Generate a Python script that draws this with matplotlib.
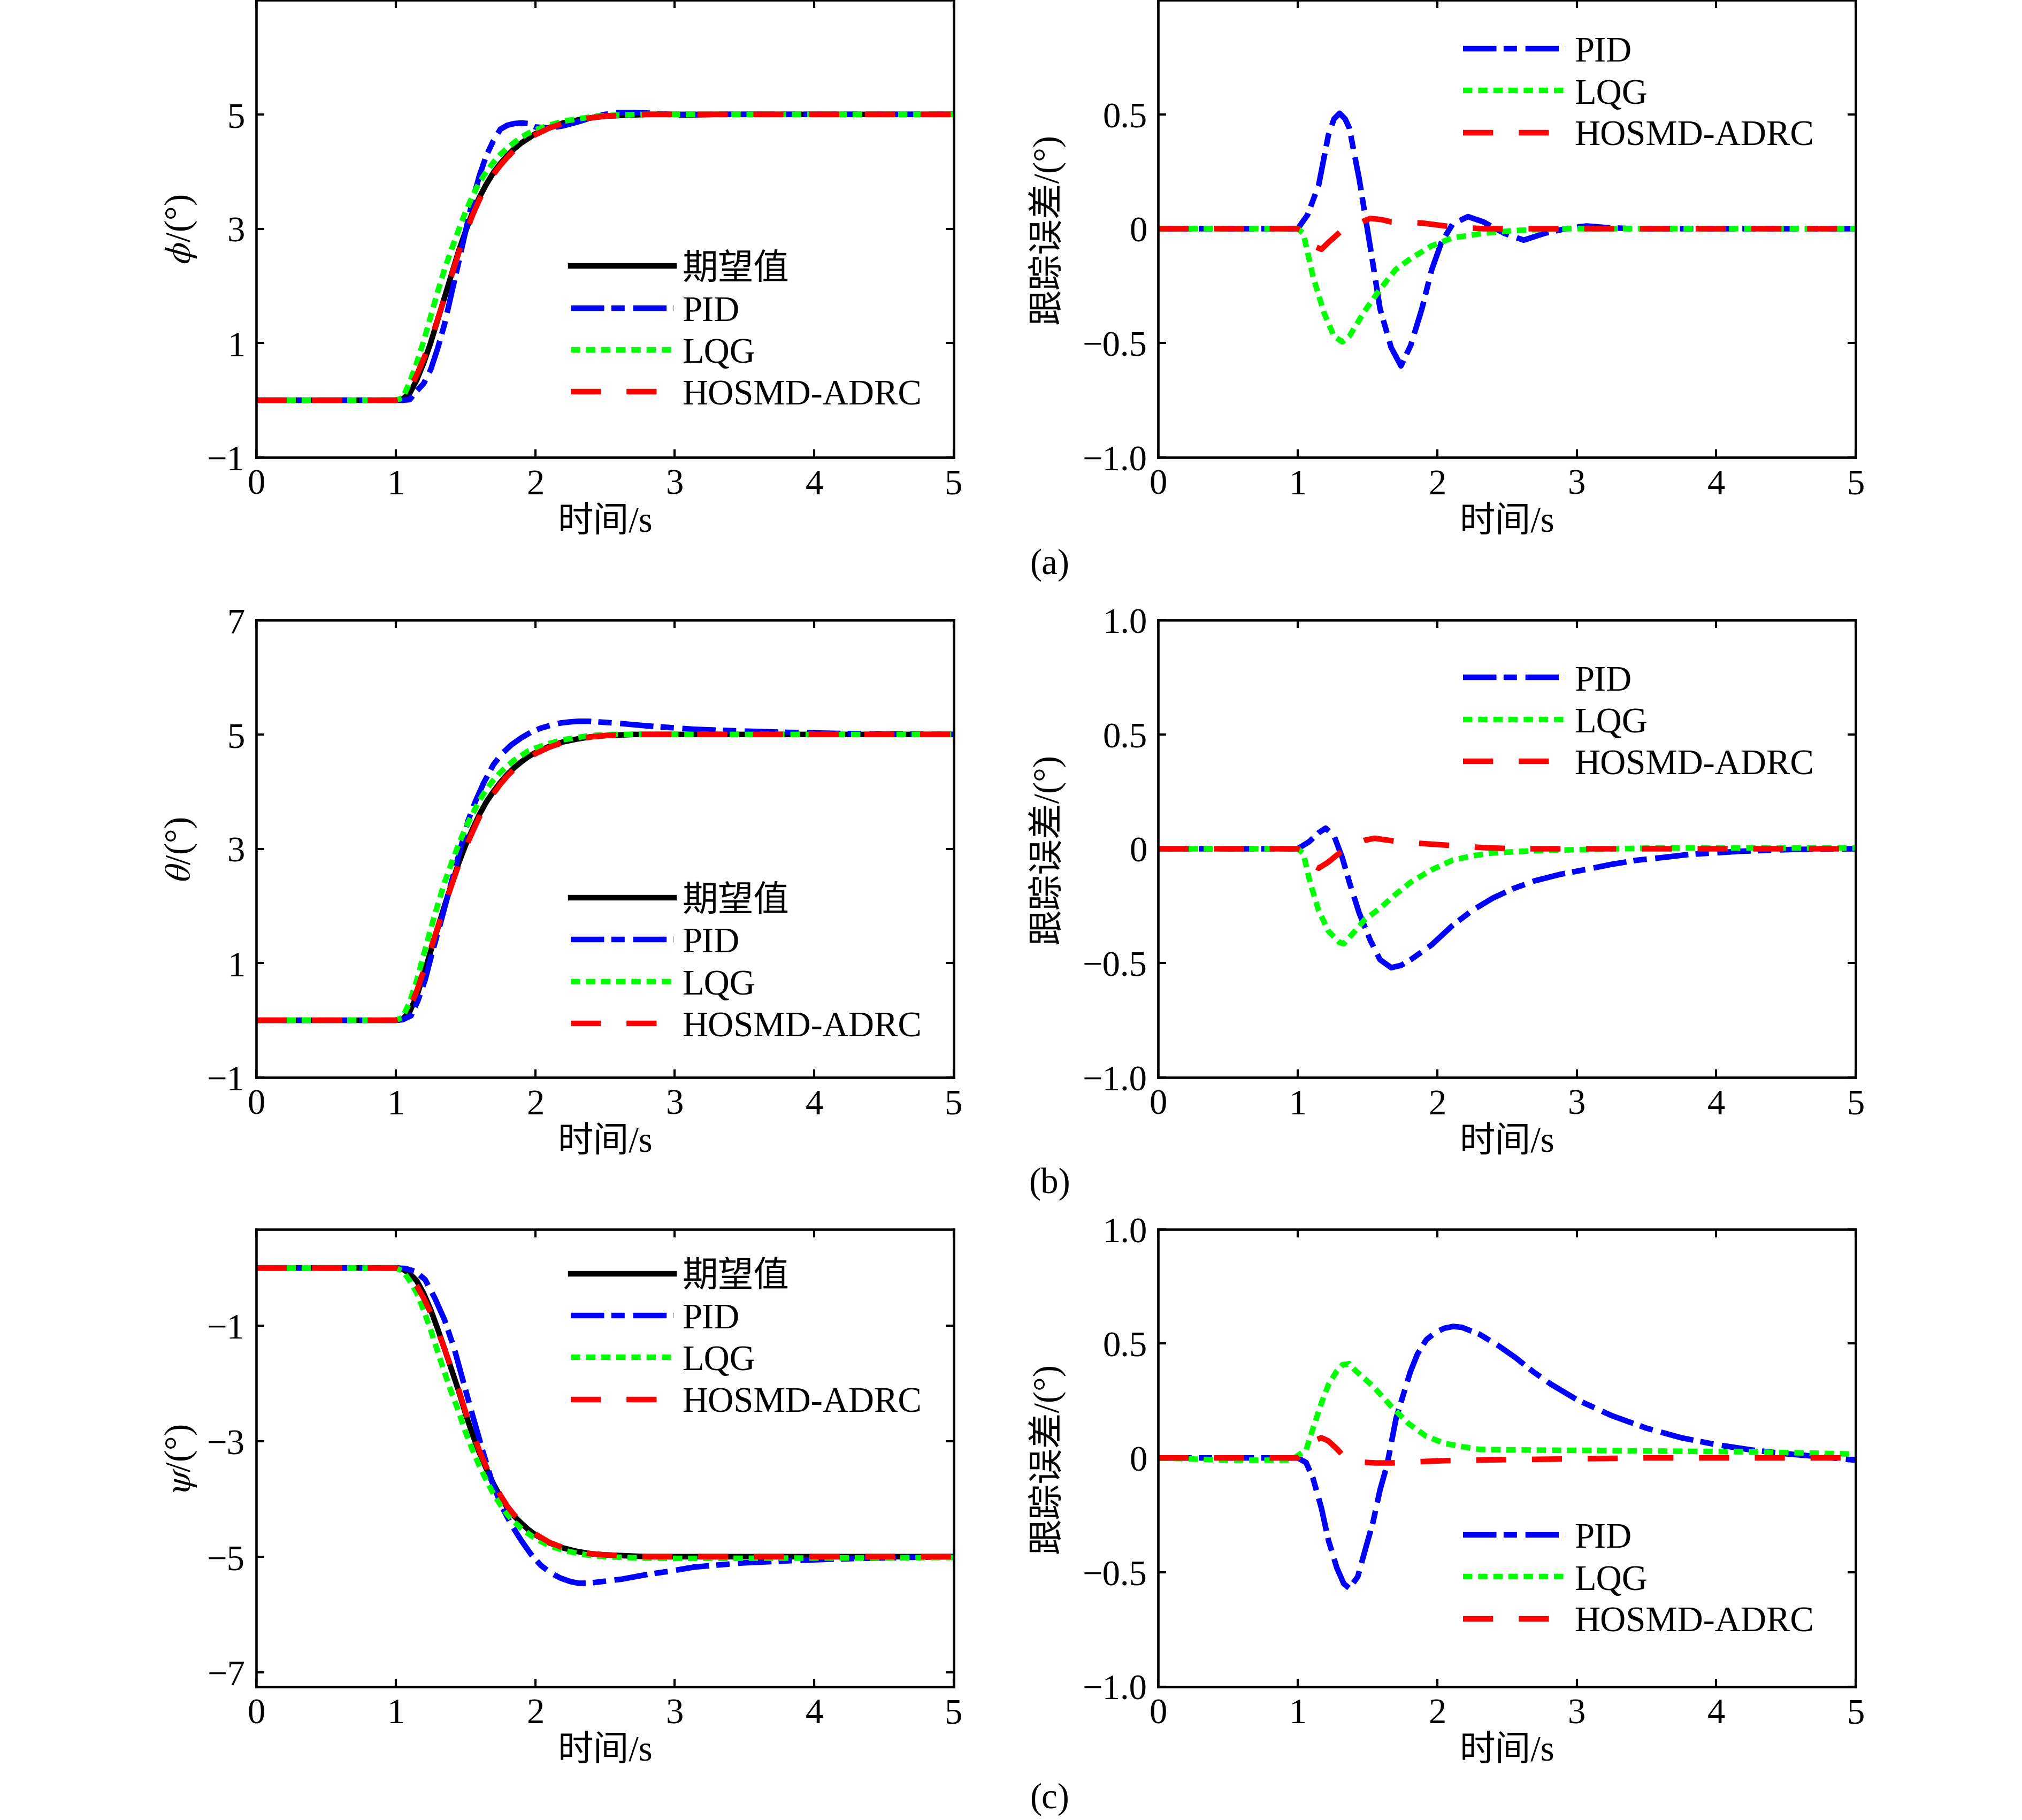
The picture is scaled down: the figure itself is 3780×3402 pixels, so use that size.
import matplotlib
matplotlib.use("Agg")
import matplotlib.pyplot as plt

plt.rcParams["font.family"] = ["Liberation Serif", "Noto Sans CJK SC"]
plt.rcParams["mathtext.fontset"] = "stix"
plt.rcParams["lines.scale_dashes"] = False
plt.rcParams["font.size"] = 16
plt.rcParams["axes.unicode_minus"] = True

# ---------------- data ----------------
# common time grid for the step responses (s)
t_step = [0, 1.0, 1.05, 1.1, 1.15, 1.2, 1.25, 1.3, 1.35, 1.4, 1.45, 1.5, 1.55, 1.6, 1.65,
          1.7, 1.75, 1.8, 1.85, 1.9, 1.95, 2.0, 2.1, 2.2, 2.3, 2.4, 2.5, 2.6, 2.7, 2.8,
          2.9, 3.0, 3.1, 3.3, 5.0]

# (a) roll angle phi
phi_ref = [0, 0, 0.02, 0.12, 0.35, 0.65, 1.0, 1.4, 1.8, 2.2, 2.6, 2.95, 3.28, 3.55, 3.78,
           3.98, 4.14, 4.28, 4.40, 4.50, 4.58, 4.66, 4.77, 4.85, 4.90, 4.94, 4.97, 4.98, 4.99, 5.0,
           5.0, 5.0, 5.0, 5.0, 5.0]
phi_pid = [0, 0, 0, 0.01, 0.16, 0.29, 0.53, 0.9, 1.33, 1.87, 2.4, 2.95, 3.48, 3.93, 4.28,
           4.54, 4.74, 4.81, 4.84, 4.85, 4.84, 4.78, 4.76, 4.80, 4.865, 4.94, 5.0, 5.03, 5.03, 5.025,
           5.01, 4.99, 4.99, 5.0, 5.0]
phi_lqg = [0, 0, 0.04, 0.31, 0.65, 1.03, 1.46, 1.89, 2.29, 2.64, 2.97, 3.29, 3.57, 3.81, 4.0,
           4.16, 4.30, 4.41, 4.51, 4.60, 4.67, 4.73, 4.81, 4.88, 4.92, 4.955, 4.98, 4.99, 4.995, 5.0,
           5.0, 5.0, 5.0, 5.0, 5.0]
phi_hos = [0, 0, 0.03, 0.19, 0.44, 0.72, 1.04, 1.41, 1.795, 2.18, 2.57, 2.91, 3.235, 3.51, 3.75,
           3.95, 4.11, 4.25, 4.375, 4.476, 4.56, 4.644, 4.761, 4.846, 4.9, 4.94, 4.97, 4.98, 4.99, 5.0,
           5.0, 5.0, 5.0, 5.0, 5.0]

t_e1_pid = [0, 1.0, 1.07, 1.15, 1.22, 1.26, 1.30, 1.34, 1.37, 1.44, 1.52, 1.59, 1.67, 1.74, 1.81,
            1.89, 1.96, 2.03, 2.11, 2.22, 2.33, 2.48, 2.62, 2.77, 2.92, 3.07, 3.21, 3.4, 5.0]
e1_pid = [0, 0, 0.06, 0.19, 0.41, 0.48, 0.505, 0.48, 0.44, 0.22, -0.08, -0.35, -0.52, -0.60, -0.51,
          -0.35, -0.18, -0.06, 0.02, 0.053, 0.03, -0.02, -0.05, -0.02, 0.0, 0.012, 0.005, 0, 0]
t_e1_lqg = [0, 1.0, 1.04, 1.11, 1.19, 1.26, 1.32, 1.37, 1.48, 1.59, 1.70, 1.81, 1.96, 2.11, 2.33,
            2.55, 2.88, 5.0]
e1_lqg = [0, 0, -0.02, -0.21, -0.37, -0.47, -0.495, -0.47, -0.36, -0.265, -0.18, -0.13, -0.075, -0.04, -0.02,
          -0.008, 0, 0]
t_e1_hos = [0, 1.0, 1.04, 1.11, 1.17, 1.22, 1.33, 1.44, 1.52, 1.60, 1.67, 1.89, 2.11, 2.33, 5.0]
e1_hos = [0, 0, -0.01, -0.075, -0.09, -0.06, 0.0, 0.025, 0.045, 0.04, 0.03, 0.025, 0.008, 0, 0]

# (b) pitch angle theta
th_ref = [0, 0, 0.02, 0.15, 0.42, 0.8, 1.2, 1.6, 2.0, 2.38, 2.74, 3.06, 3.34, 3.6, 3.82,
          4.0, 4.16, 4.3, 4.42, 4.52, 4.61, 4.68, 4.79, 4.87, 4.92, 4.96, 4.98, 4.99, 5.0, 5.0,
          5.0, 5.0, 5.0, 5.0, 5.0]
t_th_pid = [0, 1.0, 1.05, 1.11, 1.16, 1.21, 1.26, 1.32, 1.37, 1.42, 1.47, 1.52, 1.57, 1.63, 1.7,
            1.76, 1.83, 1.90, 1.97, 2.04, 2.11, 2.18, 2.25, 2.31, 2.38, 2.45, 2.62, 2.80, 2.97, 3.14,
            3.48, 3.83, 4.17, 4.5, 5.0]
th_pid = [0, 0, 0.01, 0.08, 0.35, 0.7, 1.17, 1.69, 2.15, 2.6, 3.05, 3.5, 3.82, 4.15, 4.47,
          4.66, 4.82, 4.94, 5.04, 5.11, 5.16, 5.2, 5.22, 5.23, 5.23, 5.22, 5.19, 5.15, 5.12, 5.09,
          5.06, 5.035, 5.018, 5.007, 5.0]
th_lqg = [0, 0, 0.05, 0.32, 0.69, 1.14, 1.59, 2.01, 2.41, 2.75, 3.07, 3.36, 3.61, 3.845, 4.04,
          4.2, 4.335, 4.45, 4.55, 4.63, 4.71, 4.76, 4.843, 4.907, 4.947, 4.98, 4.995, 5.0, 5.0, 5.0,
          5.0, 5.0, 5.0, 5.0, 5.0]
th_hos = [0, 0, 0.04, 0.22, 0.505, 0.865, 1.24, 1.618, 1.998, 2.362, 2.71, 3.02, 3.294, 3.558, 3.783,
          3.967, 4.13, 4.273, 4.395, 4.498, 4.59, 4.662, 4.776, 4.861, 4.915, 4.958, 4.98, 4.99, 5.0, 5.0,
          5.0, 5.0, 5.0, 5.0, 5.0]

t_e2_pid = [0, 1.0, 1.08, 1.15, 1.20, 1.26, 1.32, 1.37, 1.44, 1.52, 1.59, 1.67, 1.74, 1.81, 1.96,
            2.11, 2.25, 2.40, 2.55, 2.70, 2.88, 3.07, 3.25, 3.43, 3.62, 3.80, 3.99, 4.17, 4.35, 4.54, 5.0]
e2_pid = [0, 0, 0.03, 0.07, 0.09, 0.057, -0.04, -0.146, -0.28, -0.40, -0.485, -0.52, -0.51, -0.485, -0.42,
          -0.335, -0.27, -0.215, -0.173, -0.14, -0.112, -0.09, -0.068, -0.05, -0.038, -0.025, -0.018, -0.011,
          -0.007, -0.003, 0]
t_e2_lqg = [0, 1.0, 1.04, 1.09, 1.15, 1.22, 1.30, 1.33, 1.41, 1.48, 1.59, 1.70, 1.81, 1.96, 2.11,
            2.25, 2.40, 2.70, 3.07, 3.5, 5.0]
e2_lqg = [0, 0, -0.02, -0.15, -0.27, -0.36, -0.41, -0.415, -0.36, -0.31, -0.26, -0.2, -0.146, -0.092, -0.05,
          -0.031, -0.018, -0.008, -0.003, 0.003, 0.003]
t_e2_hos = [0, 1.0, 1.04, 1.09, 1.15, 1.22, 1.30, 1.37, 1.48, 1.55, 1.70, 1.89, 2.11, 2.33, 2.55, 5.0]
e2_hos = [0, 0, -0.01, -0.065, -0.085, -0.058, -0.018, 0.01, 0.037, 0.046, 0.033, 0.023, 0.014, 0.005, 0, 0]

# (c) yaw angle psi
psi_ref = [0, 0, -0.02, -0.1, -0.22, -0.44, -0.72, -1.05, -1.4, -1.76, -2.12, -2.52, -2.88, -3.2, -3.48,
           -3.74, -3.96, -4.15, -4.3, -4.42, -4.53, -4.62, -4.76, -4.85, -4.91, -4.95, -4.97, -4.98, -4.99, -5.0,
           -5.0, -5.0, -5.0, -5.0, -5.0]
t_psi_pid = [0, 1.0, 1.07, 1.14, 1.21, 1.28, 1.35, 1.42, 1.49, 1.56, 1.63, 1.69, 1.76, 1.83, 1.90,
             1.97, 2.04, 2.11, 2.18, 2.25, 2.31, 2.38, 2.45, 2.62, 2.80, 2.97, 3.14, 3.48, 3.83, 4.17,
             4.52, 5.0]
psi_pid = [0, 0, -0.01, -0.06, -0.2, -0.52, -0.9, -1.4, -2.02, -2.63, -3.22, -3.7, -4.13, -4.45, -4.72,
           -4.96, -5.15, -5.28, -5.37, -5.43, -5.46, -5.46, -5.44, -5.39, -5.31, -5.25, -5.18, -5.11, -5.07, -5.04,
           -5.02, -5.0]
psi_lqg = [0, 0, -0.05, -0.22, -0.43, -0.73, -1.07, -1.445, -1.81, -2.16, -2.48, -2.84, -3.15, -3.43, -3.68,
           -3.91, -4.1, -4.27, -4.4, -4.51, -4.6, -4.685, -4.81, -4.888, -4.942, -4.98, -5.0, -5.01, -5.02, -5.025,
           -5.03, -5.03, -5.03, -5.03, -5.015]
psi_hos = [0, 0, -0.05, -0.17, -0.308, -0.52, -0.775, -1.075, -1.4, -1.748, -2.098, -2.49, -2.846, -3.167, -3.449,
           -3.711, -3.934, -4.127, -4.28, -4.403, -4.516, -4.608, -4.752, -4.845, -4.909, -4.95, -4.97, -4.98, -4.99, -5.0,
           -5.0, -5.0, -5.0, -5.0, -5.0]

t_e3_pid = [0, 1.0, 1.06, 1.11, 1.17, 1.22, 1.28, 1.33, 1.37, 1.43, 1.48, 1.54, 1.59, 1.63, 1.65,
            1.705, 1.756, 1.807, 1.858, 1.922, 1.986, 2.05, 2.114, 2.177, 2.305, 2.433, 2.56, 2.69, 2.816, 3.0,
            3.25, 3.5, 3.75, 4.0, 4.25, 4.5, 4.75, 5.0]
e3_pid = [0, 0, -0.02, -0.09, -0.22, -0.36, -0.48, -0.55, -0.57, -0.52, -0.41, -0.28, -0.14, -0.053, 0.0,
          0.173, 0.275, 0.376, 0.454, 0.517, 0.548, 0.567, 0.575, 0.571, 0.54, 0.493, 0.439, 0.376, 0.322, 0.255,
          0.185, 0.13, 0.088, 0.058, 0.035, 0.018, 0.005, -0.01]
t_e3_lqg = [0, 0.5, 0.95, 1.06, 1.11, 1.17, 1.22, 1.28, 1.32, 1.37, 1.41, 1.539, 1.667, 1.795, 1.92,
            2.05, 2.18, 2.305, 2.56, 3.0, 4.17, 4.54, 4.91, 5.0]
e3_lqg = [0, -0.01, -0.01, 0.034, 0.13, 0.24, 0.32, 0.38, 0.407, 0.412, 0.384, 0.314, 0.228, 0.15, 0.095,
          0.064, 0.049, 0.037, 0.035, 0.033, 0.027, 0.023, 0.018, 0.015]
t_e3_hos = [0, 1.0, 1.06, 1.11, 1.17, 1.22, 1.28, 1.33, 1.44, 1.56, 1.67, 1.81, 2.05, 2.45, 3.0, 3.5, 5.0]
e3_hos = [0, 0, 0.034, 0.074, 0.088, 0.074, 0.04, 0.007, -0.018, -0.022, -0.022, -0.018, -0.012, -0.008,
          -0.004, 0, 0]

x_ticks = [0, 1, 2, 3, 4, 5]
err_ticks = [-1.0, -0.5, 0, 0.5, 1.0]
err_labels = ["\u22121.0", "\u22120.5", "0", "0.5", "1.0"]
names = ["期望值", "PID", "LQG", "HOSMD-ADRC"]

# ---------------- styles ----------------
LW = 2.5
styles = {
    "ref": dict(color="black", lw=LW, ls="-"),
    "pid": dict(color="#0000ff", lw=LW, dashes=(15, 3.2, 6, 3.8)),
    "lqg": dict(color="#00ff00", lw=LW, dashes=(4.2, 2.6)),
    "hos": dict(color="#ff0000", lw=LW, dashes=(13.5, 11.5)),
}

fig = plt.figure(figsize=(12.6, 11.343), dpi=300)

col_x = [0.1267, 0.5728]
row_b = [0.7485, 0.4079, 0.0733]
W, H = 0.3450, 0.2512


def style_axes(ax):
    ax.set_xlim(0, 5)
    ax.set_xticks(x_ticks)
    ax.tick_params(direction="in", top=True, right=True, length=3.6, width=1.0,
                   labelsize=16, pad=5)
    for s in ax.spines.values():
        s.set_linewidth(1.1)
    ax.set_xlabel("时间/s", fontsize=16, va="center")
    ax.xaxis.set_label_coords(0.5, -0.142)


resp = [
    (t_step, phi_ref, t_step, phi_pid, phi_lqg, phi_hos, r"$\phi$/(°)", (-1, 7), [-1, 1, 3, 5], 0.273),
    (t_step, th_ref, t_th_pid, th_pid, th_lqg, th_hos, r"$\theta$/(°)", (-1, 7), [-1, 1, 3, 5, 7], 0.248),
    (t_step, psi_ref, t_psi_pid, psi_pid, psi_lqg, psi_hos, r"$\psi$/(°)", (-7.25, 0.67), [-7, -5, -3, -1], 0.758),
]
errs = [
    (t_e1_pid, e1_pid, t_e1_lqg, e1_lqg, t_e1_hos, e1_hos, 4, 0.794),
    (t_e2_pid, e2_pid, t_e2_lqg, e2_lqg, t_e2_hos, e2_hos, 5, 0.775),
    (t_e3_pid, e3_pid, t_e3_lqg, e3_lqg, t_e3_hos, e3_hos, 5, 0.232),
]

leg_kw = dict(frameon=False, borderpad=0, borderaxespad=0, handlelength=2.9,
              handletextpad=0.22, labelspacing=0.26, fontsize=16)

for i in range(3):
    # response panel
    t, ref, tp, pid, lqg, hos, ylab, ylim, yt, ly = resp[i]
    ax = fig.add_axes([col_x[0], row_b[i], W, H])
    ax.plot(t, ref, label=names[0], **styles["ref"])
    ax.plot(tp, pid, label=names[1], **styles["pid"])
    ax.plot(t, lqg, label=names[2], **styles["lqg"])
    ax.plot(t, hos, label=names[3], **styles["hos"])
    ax.set_ylim(*ylim)
    ax.set_yticks(yt)
    style_axes(ax)
    ax.set_ylabel(ylab, fontsize=16, va="center")
    ax.yaxis.set_label_coords(-0.108, 0.5)
    ax.legend(loc="center left", bbox_to_anchor=(0.451, ly), **leg_kw)

    # tracking error panel
    tp, ep, tl, el, th, eh, nt, ly = errs[i]
    ax = fig.add_axes([col_x[1], row_b[i], W, H])
    ax.plot(tp, ep, label=names[1], **styles["pid"])
    ax.plot(tl, el, label=names[2], **styles["lqg"])
    ax.plot(th, eh, label=names[3], **styles["hos"])
    ax.set_ylim(-1, 1)
    ax.set_yticks(err_ticks[:nt])
    ax.set_yticklabels(err_labels[:nt])
    style_axes(ax)
    ax.set_ylabel("跟踪误差/(°)", fontsize=16, va="center")
    ax.yaxis.set_label_coords(-0.161, 0.5)
    ax.legend(loc="center left", bbox_to_anchor=(0.437, ly), **leg_kw)

for lab, y in zip(["(a)", "(b)", "(c)"], [0.6897, 0.3497, 0.0117]):
    fig.text(0.519, y, lab, ha="center", va="center", fontsize=16)

fig.savefig("out.png", dpi=300)
